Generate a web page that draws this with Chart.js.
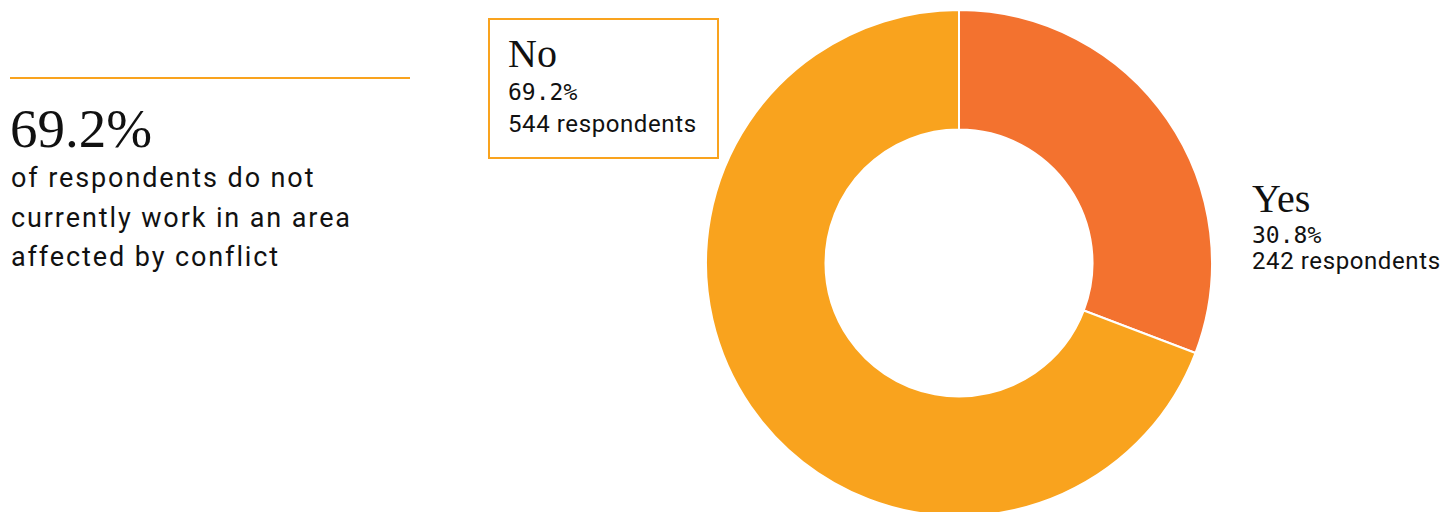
<!DOCTYPE html>
<html>
<head>
<meta charset="utf-8">
<script src="https://cdn.jsdelivr.net/npm/chart.js@4/dist/chart.umd.min.js"></script>
<style>
  html, body { margin: 0; padding: 0; background: #fff; overflow: hidden; }
  body { width: 1445px; height: 512px; position: relative; font-family: Roboto, sans-serif; color: #111; }
  .rule { position: absolute; left: 10px; top: 77px; width: 400px; height: 2px; background: #F9A31E; }
  .big { position: absolute; left: 10px; top: 96px; font: 55px "Liberation Serif", serif; line-height: 66px; }
  .desc { position: absolute; left: 11px; top: 159px; font-size: 27px; line-height: 39.5px; letter-spacing: 1.9px; white-space: nowrap; }
  .lab { position: absolute; box-sizing: border-box; }
  .lab .name { font: 40px "Liberation Serif", serif; line-height: 44px; }
  .lab .pct { font: 23px "DejaVu Sans Mono", monospace; }
  .lab .cnt { font-size: 24px; letter-spacing: 0.6px; white-space: nowrap; }
  #labNo { left: 488px; top: 18px; width: 231px; height: 141px; border: 2px solid #F9A31E; padding: 11.5px 0 0 18px; }
  #labNo .pct { line-height: 33px; }
  #labNo .cnt { line-height: 30px; }
  #labYes { left: 1252px; top: 177px; }
  #labYes .pct { line-height: 29px; }
  #labYes .cnt { line-height: 22px; }
  #wrap { position: absolute; left: 706px; top: 10px; width: 506px; height: 506px; }
</style>
</head>
<body>
<div class="rule"></div>
<div class="big">69.2%</div>
<div class="desc">of respondents do not<br>currently work in an area<br>affected by conflict</div>
<div class="lab" id="labNo"></div>
<div class="lab" id="labYes"></div>
<div id="wrap"><canvas id="donut"></canvas></div>
<script>
// data
const labels = ['Yes', 'No'];
const respondents = [242, 544];
const percents = [30.8, 69.2];
const colors = ['#F3722F', '#F9A31E'];

function fillLabel(id, i) {
    document.getElementById(id).innerHTML =
        '<div class="name">' + labels[i] + '</div>' +
        '<div class="pct">' + percents[i].toFixed(1) + '%</div>' +
        '<div class="cnt">' + respondents[i] + ' respondents</div>';
}
fillLabel('labYes', 0);
fillLabel('labNo', 1);

const ctx = document.getElementById('donut').getContext('2d');
const donut = new Chart(ctx, {
    type: 'doughnut',
    data: {
        labels: labels,
        datasets: [{
            data: respondents,
            backgroundColor: colors,
            borderColor: '#fff',
            borderWidth: 2
        }]
    },
    options: {
        responsive: true,
        maintainAspectRatio: false,
        animation: false,
        radius: 253,
        cutout: 133,
        plugins: {
            legend: { display: false },
            tooltip: { enabled: false }
        }
    }
});
</script>
</body>
</html>
